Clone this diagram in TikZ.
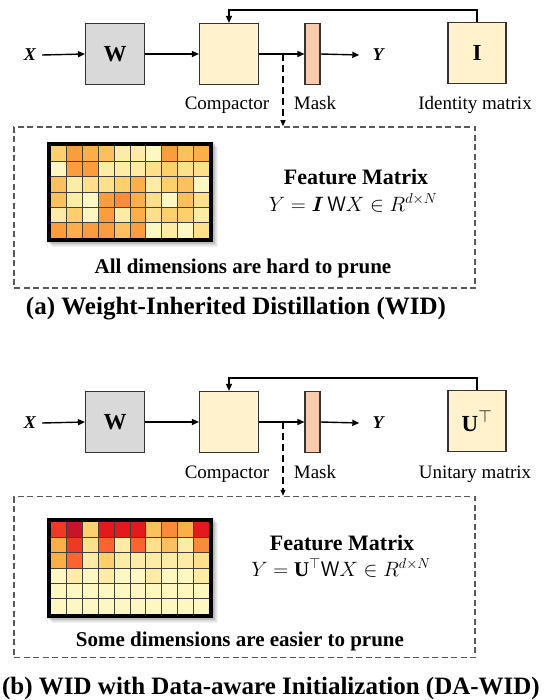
\documentclass[tikz,border=0pt]{standalone}
\usepackage{amsmath,amssymb}
\usepackage{fontspec}
\setmainfont{Liberation Serif}
\usetikzlibrary{arrows.meta,calc}
\definecolor{mA}{HTML}{FFF7C2}
\definecolor{mB}{HTML}{FEEBA6}
\definecolor{mC}{HTML}{FEDF8C}
\definecolor{mD}{HTML}{FDD06D}
\definecolor{mE}{HTML}{FDC05E}
\definecolor{mF}{HTML}{FBAE4A}
\definecolor{mG}{HTML}{FA9D3E}
\definecolor{mH}{HTML}{F98C3A}
\definecolor{mI}{HTML}{FB6430}
\definecolor{mJ}{HTML}{EE3A24}
\definecolor{mK}{HTML}{E31A1C}
\definecolor{mL}{HTML}{C81428}
\definecolor{wgray}{HTML}{D9D9D9}
\definecolor{cream}{HTML}{FFF2CC}
\definecolor{maskc}{HTML}{F8CBAD}
\definecolor{dashgray}{HTML}{595959}
\tikzset{
  blk/.style={draw=black!80, line width=1.1pt, minimum width=59pt, minimum height=61pt, inner sep=0pt},
  maskbox/.style={draw=black!80, line width=1.1pt, fill=maskc, minimum width=15pt, minimum height=61pt, inner sep=0pt},
  flow/.style={line width=1.4pt, -{Triangle[length=7pt,width=6pt]}},
  tap/.style={line width=1.2pt, dash pattern=on 7pt off 4pt, -{Triangle[length=6pt,width=5pt]}},
  dbox/.style={draw=dashgray, line width=1.5pt, dash pattern=on 6pt off 3.5pt, minimum width=461pt, minimum height=161pt, inner sep=0pt},
  lbl/.style={font=\fontsize{19}{21}\selectfont, inner sep=0pt, anchor=base},
  var/.style={font=\fontsize{18}{20}\selectfont\bfseries\itshape, inner sep=0pt},
  boxtxt/.style={font=\fontsize{23}{25}\selectfont\bfseries},
  fmtitle/.style={font=\fontsize{22}{24}\selectfont\bfseries, inner sep=0pt},
  eqn/.style={font=\fontsize{21}{24}\selectfont, inner sep=0pt},
  note/.style={font=\fontsize{21}{23}\selectfont\bfseries, inner sep=0pt},
  capt/.style={font=\fontsize{25}{28}\selectfont\bfseries, inner sep=0pt},
  gridl/.style={black!75, line width=0.8pt}
}
\newcommand\featmat[2]{%
  \foreach \o in {1,...,6} {
    \fill[black, opacity=0.05] (47-1+\o, #1-1+\o) rectangle (213+\o*0.8, #1+100+\o*0.8);
  }
  \foreach \row [count=\r from 0] in {#2} {
    \foreach \c [count=\k from 0] in \row {
      \fill[\c] (51+\k*15.8, #1+4+\r*15.333) rectangle ++(15.8,15.333);
    }
  }
  \foreach \k in {1,...,9} {\draw[gridl] (51+\k*15.8, #1+4) -- ++(0,92);}
  \foreach \k in {1,...,5} {\draw[gridl] (51, #1+4+\k*15.333) -- ++(158,0);}
  \draw[line width=4pt] (49, #1+2) rectangle (211, #1+98);
}
\begin{document}
\begin{tikzpicture}[x=1pt,y=-1pt]
\useasboundingbox[fill=white] (0,0) rectangle (545,700);

% ---------------- (a) ----------------
\node[var] (xa) at (30,55) {X};
\node[blk, fill=wgray, boxtxt] (wa) at (115,54) {W};
\node[blk, fill=cream] (ca) at (229,54) {};
\node[maskbox] (ma) at (312.5,54) {};
\node[var] (ya) at (378,55) {Y};
\node[blk, fill=cream, minimum width=58pt, boxtxt] (ia) at (477,53) {I};
\coordinate (bra) at (283,54);
\node[lbl] (cla) at (227,110) {Compactor};
\node[lbl] (mla) at (315,110) {Mask};
\node[lbl] (ila) at (475,110) {Identity matrix};
\node[dbox] (da) at (244.5,207.5) {};

\draw[flow] (xa.east) ++(6,0) coordinate (xa0) (xa0) -- (wa.west);
\draw[flow] (wa.east) -- (ca.west);
\draw[flow] (ca.east) -- (ma.west);
\draw[flow] (ma.east) -- ($(ya.west)+(-13,0)$);
\draw[flow] (ia.north) -- (ia.north |- 0,10) -| (ca.north);
\draw[tap] (bra) -- (bra |- da.north);

\featmat{142}{{mD,mG,mF,mE,mB,mB,mA,mG,mE,mF},{mA,mG,mG,mB,mB,mB,mC,mD,mC,mC},{mE,mB,mC,mC,mD,mF,mB,mD,mE,mA},{mE,mB,mA,mG,mH,mF,mC,mA,mE,mC},{mB,mD,mA,mG,mB,mF,mC,mD,mD,mB},{mG,mF,mG,mG,mE,mG,mA,mB,mA,mC}}

\node[fmtitle] (fta) at (356,177) {Feature Matrix};
\node[eqn] (eqa) at (353,203) {$Y = \boldsymbol{I}\,\mathsf{W}X \in R^{d\times N}$};
\node[note] (nta) at (243,268) {All dimensions are hard to prune};
\node[capt] (cpa) at (236,309) {(a) Weight-Inherited Distillation (WID)};

% ---------------- (b) ----------------
\node[var] (xb) at (30,423) {X};
\node[blk, fill=wgray, boxtxt] (wb) at (115,422) {W};
\node[blk, fill=cream] (cb) at (229,422) {};
\node[maskbox] (mb) at (312.5,422) {};
\node[var] (yb) at (378,423) {Y};
\node[blk, fill=cream, minimum width=58pt, boxtxt] (ub) at (477,421) {U$^{\mathsf{\top}}$};
\coordinate (brb) at (283,422);
\node[lbl] (clb) at (227,478) {Compactor};
\node[lbl] (mlb) at (315,478) {Mask};
\node[lbl] (ulb) at (475,478) {Unitary matrix};
\node[dbox] (db) at (244.5,577) {};

\draw[flow] (xb.east) ++(6,0) coordinate (xb0) (xb0) -- (wb.west);
\draw[flow] (wb.east) -- (cb.west);
\draw[flow] (cb.east) -- (mb.west);
\draw[flow] (mb.east) -- ($(yb.west)+(-13,0)$);
\draw[flow] (ub.north) -- (ub.north |- 0,378) -| (cb.north);
\draw[tap] (brb) -- (brb |- db.north);

\featmat{518}{{mJ,mL,mD,mK,mK,mK,mE,mH,mF,mK},{mF,mJ,mC,mI,mB,mI,mC,mE,mB,mH},{mF,mI,mB,mD,mB,mB,mB,mB,mB,mC},{mA,mB,mA,mB,mA,mA,mB,mA,mA,mB},{mA,mA,mA,mA,mA,mA,mA,mA,mA,mA},{mA,mA,mA,mA,mA,mA,mA,mA,mA,mA}}

\node[fmtitle] (ftb) at (342,543) {Feature Matrix};
\node[eqn] (eqb) at (341,568) {$Y = \mathbf{U}^{\top}\mathsf{W}X \in R^{d\times N}$};
\node[note] (ntb) at (240,641) {Some dimensions are easier to prune};
\node[capt] (cpb) at (271,688) {(b) WID with Data-aware Initialization (DA-WID)};
\end{tikzpicture}
\end{document}
